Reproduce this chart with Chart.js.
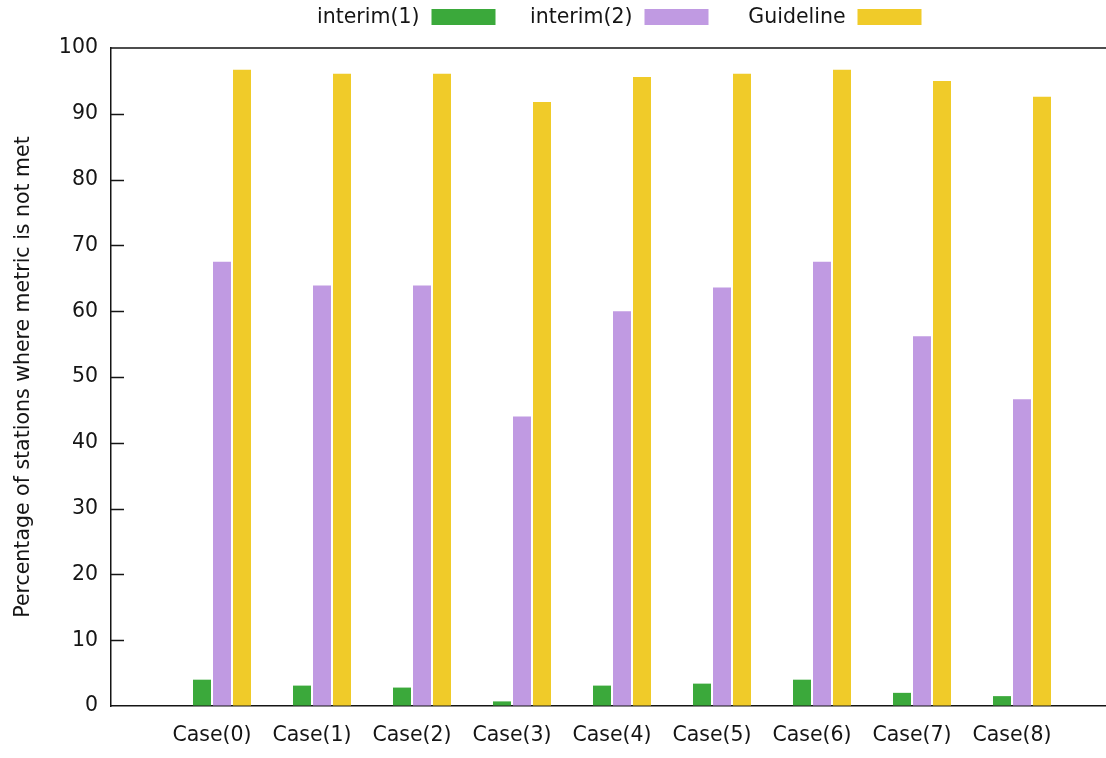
<!DOCTYPE html>
<html>
<head>
<meta charset="utf-8">
<title>Percentage of stations where metric is not met</title>
<script src="https://cdn.jsdelivr.net/npm/chart.js@4.4.1/dist/chart.umd.min.js"></script>
<style>
  html, body { margin: 0; padding: 0; background: #fff; }
  #wrap { width: 1106px; height: 758px; }
</style>
</head>
<body>
<div id="wrap"><canvas id="chart" width="1106" height="758"></canvas></div>
<script>
// --- data ---
const categories = ['Case(0)', 'Case(1)', 'Case(2)', 'Case(3)', 'Case(4)', 'Case(5)', 'Case(6)', 'Case(7)', 'Case(8)'];
const seriesNames = ['interim(1)', 'interim(2)', 'Guideline'];
const interim1 = [4.0, 3.1, 2.8, 0.7, 3.1, 3.4, 4.0, 2.0, 1.5];
const interim2 = [67.5, 63.9, 63.9, 44.0, 60.0, 63.6, 67.5, 56.2, 46.6];
const guideline = [96.7, 96.1, 96.1, 91.8, 95.6, 96.1, 96.7, 95.0, 92.6];
const yTicks = [0, 10, 20, 30, 40, 50, 60, 70, 80, 90, 100];
const yTitle = 'Percentage of stations where metric is not met';

const COLORS = ['#3ba93b', '#c09ae2', '#f0cb29'];
const INK = '#151515';
const FONT = '"DejaVu Sans", Verdana, sans-serif';
const FONT_SIZE = 20.5;

Chart.defaults.font.family = FONT;
Chart.defaults.font.size = FONT_SIZE;
Chart.defaults.color = INK;

function toPoints(values) {
    return values.map((v, i) => ({ x: i, y: v }));
}

// gnuplot style key: text first, then the colour sample, in equal columns
const keyPlugin = {
    id: 'keyPlugin',
    afterDraw(chart) {
        const ctx = chart.ctx;
        const area = chart.chartArea;
        const center = (area.left + area.right) / 2 + 10;
        ctx.save();
        ctx.font = FONT_SIZE + 'px ' + FONT;
        ctx.textAlign = 'right';
        ctx.textBaseline = 'middle';
        chart.data.datasets.forEach((ds, i) => {
            const textRight = center + 14 + (i - 1) * 213;
            ctx.fillStyle = INK;
            ctx.fillText(ds.label, textRight, 18);
            ctx.fillStyle = ds.backgroundColor;
            ctx.fillRect(textRight + 12, 9, 64, 16);
        });
        ctx.restore();
    }
};

// top border and inward tick marks on the y axis
const framePlugin = {
    id: 'framePlugin',
    afterDraw(chart) {
        const ctx = chart.ctx;
        const area = chart.chartArea;
        const y = chart.scales.y;
        ctx.save();
        ctx.strokeStyle = INK;
        ctx.lineWidth = 1.5;
        ctx.beginPath();
        ctx.moveTo(area.left, area.top);
        ctx.lineTo(area.right, area.top);
        yTicks.forEach(v => {
            if (v === 0 || v === 100) return;
            const py = Math.round(y.getPixelForValue(v)) + 0.5;
            ctx.moveTo(area.left, py);
            ctx.lineTo(area.left + 13, py);
        });
        ctx.stroke();
        ctx.restore();
    }
};

new Chart(document.getElementById('chart'), {
    type: 'bar',
    data: {
        datasets: [
            { label: seriesNames[0], data: toPoints(interim1), backgroundColor: COLORS[0] },
            { label: seriesNames[1], data: toPoints(interim2), backgroundColor: COLORS[1] },
            { label: seriesNames[2], data: toPoints(guideline), backgroundColor: COLORS[2] }
        ]
    },
    options: {
        responsive: false,
        animation: false,
        layout: { padding: { top: 48, left: 0, right: 0, bottom: 0 } },
        datasets: { bar: { categoryPercentage: 0.6, barPercentage: 0.9, borderWidth: 0 } },
        plugins: {
            legend: { display: false },
            tooltip: { enabled: false }
        },
        scales: {
            x: {
                type: 'linear',
                offset: false,
                min: -1.11,
                max: 8.84,
                afterBuildTicks: s => { s.ticks = categories.map((c, i) => ({ value: i })); },
                afterFit: s => { s.height = 52; },
                grid: { display: true, drawOnChartArea: false, drawTicks: false },
                border: { display: true, color: INK, width: 1.5 },
                ticks: {
                    autoSkip: false,
                    maxRotation: 0,
                    padding: 17,
                    labelOffset: -10,
                    callback: v => categories[v]
                }
            },
            y: {
                min: 0,
                max: 100,
                afterBuildTicks: s => { s.ticks = yTicks.map(v => ({ value: v })); },
                afterFit: s => { s.width = 111; },
                grid: { display: true, drawOnChartArea: false, drawTicks: false },
                border: { display: true, color: INK, width: 1.5 },
                ticks: { padding: 13 },
                title: {
                    display: true,
                    text: yTitle,
                    font: { size: FONT_SIZE },
                    padding: { top: 11, bottom: 0 }
                }
            }
        }
    },
    plugins: [keyPlugin, framePlugin]
});
</script>
</body>
</html>
